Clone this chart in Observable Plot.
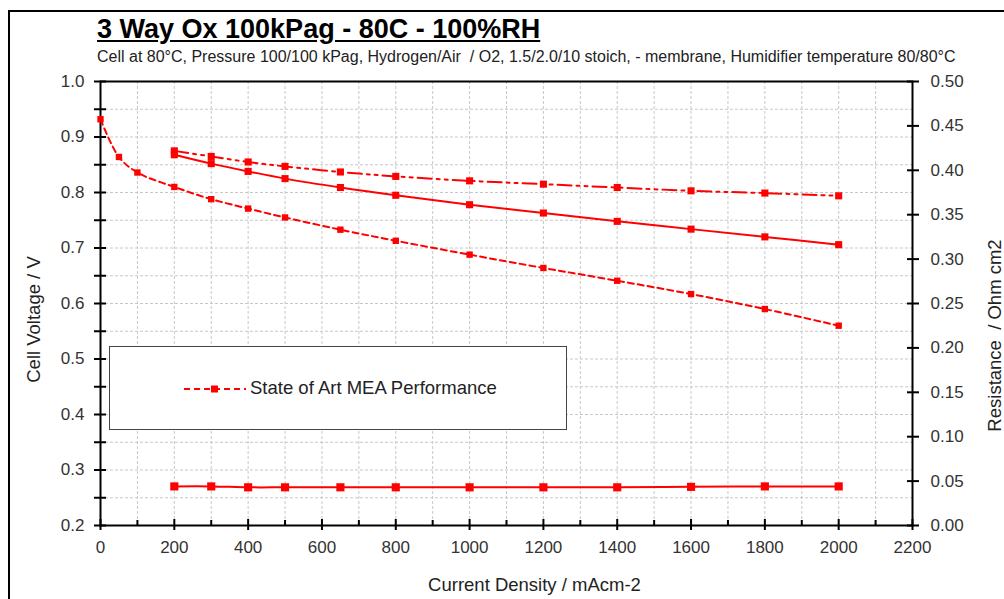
<!DOCTYPE html>
<html><head><meta charset="utf-8">
<script src="https://cdn.jsdelivr.net/npm/d3@7"></script>
<script src="https://cdn.jsdelivr.net/npm/@observablehq/plot@0.6"></script>
<style>
body{margin:0;background:#fff;font-family:"Liberation Sans",Arial,sans-serif;}
#wrap{position:relative;width:1004px;height:599px;overflow:hidden;background:#fff;}
#border{position:absolute;left:8px;top:10px;width:1100px;height:700px;border:2px solid #000;box-sizing:border-box;}
#title{position:absolute;left:97px;top:14px;font-size:27px;font-weight:bold;text-decoration:underline;color:#000;white-space:nowrap;}
#sub{position:absolute;left:97px;top:48px;font-size:16px;color:#222;white-space:nowrap;}
#chart{position:absolute;left:0;top:62px;}
#legend{position:absolute;left:109px;top:346px;width:458px;height:84px;border:1.5px solid #444;background:#fff;box-sizing:border-box;}
#legend svg{position:absolute;left:72px;top:35px;}
#legend span{position:absolute;left:140px;top:30px;font-size:18.5px;color:#222;white-space:nowrap;}
</style></head>
<body>
<div id="wrap">
  <div id="border"></div>
  <div id="title">3 Way Ox 100kPag - 80C - 100%RH</div>
  <div id="sub">Cell at 80°C, Pressure 100/100 kPag, Hydrogen/Air&nbsp; / O2, 1.5/2.0/10 stoich, - membrane, Humidifier temperature 80/80°C</div>
  <div id="chart"></div>
  <div id="legend"><svg width="66" height="14"><line x1="2" y1="7" x2="64" y2="7" stroke="#ff0000" stroke-width="2" stroke-dasharray="6,4"/><rect x="29" y="3.5" width="7" height="7" fill="#ff0000"/></svg><span>State of Art MEA Performance</span></div>
</div>
<script>
// Data
const soaCurrent = [0, 50, 100, 200, 300, 400, 500, 650, 800, 1000, 1200, 1400, 1600, 1800, 2000];
const soaVoltage = [0.932, 0.864, 0.836, 0.810, 0.788, 0.771, 0.755, 0.733, 0.713, 0.688, 0.664, 0.641, 0.617, 0.590, 0.560];
const testCurrent = [200, 300, 400, 500, 650, 800, 1000, 1200, 1400, 1600, 1800, 2000];
const solidVoltage = [0.868, 0.852, 0.838, 0.825, 0.809, 0.795, 0.778, 0.763, 0.748, 0.734, 0.720, 0.706];
const dashDotVoltage = [0.875, 0.865, 0.855, 0.847, 0.837, 0.829, 0.821, 0.815, 0.809, 0.803, 0.799, 0.794];
const resistance = [0.044, 0.044, 0.043, 0.043, 0.043, 0.043, 0.043, 0.043, 0.043, 0.0435, 0.044, 0.044];
const xTickLabels = [0, 200, 400, 600, 800, 1000, 1200, 1400, 1600, 1800, 2000, 2200];
const xMinorTicks = [100, 300, 500, 700, 900, 1100, 1300, 1500, 1700, 1900, 2100];
const yTickLabels = [0.2, 0.3, 0.4, 0.5, 0.6, 0.7, 0.8, 0.9, 1.0];
const yTicks = [0.2, 0.25, 0.3, 0.35, 0.4, 0.45, 0.5, 0.55, 0.6, 0.65, 0.7, 0.75, 0.8, 0.85, 0.9, 0.95, 1.0];
const rTicks = [0, 0.05, 0.1, 0.15, 0.2, 0.25, 0.3, 0.35, 0.4, 0.45, 0.5];
const xGrid = [100, 200, 300, 400, 500, 600, 700, 800, 900, 1000, 1100, 1200, 1300, 1400, 1500, 1600, 1700, 1800, 1900, 2000, 2100];

// right axis (resistance) mapped onto left voltage scale
const rToV = d3.scaleLinear().domain([0, 0.5]).range([0.2, 1.0]);

const soa = soaCurrent.map((x, i) => ({x, y: soaVoltage[i]}));
const solid = testCurrent.map((x, i) => ({x, y: solidVoltage[i]}));
const dd = testCurrent.map((x, i) => ({x, y: dashDotVoltage[i]}));
const res = testCurrent.map((x, i) => ({x, y: rToV(resistance[i])}));

const red = "#ff0000";
const font = "Liberation Sans, Arial, sans-serif";

const chart = Plot.plot({
  width: 1004,
  height: 537,
  marginTop: 19,
  marginBottom: 74,
  marginLeft: 100,
  marginRight: 92,
  style: {fontFamily: font, fontSize: "17px", color: "#333", background: "transparent"},
  x: {domain: [0, 2200], axis: null},
  y: {domain: [0.2, 1.0], axis: null},
  marks: [
    Plot.gridX(xGrid, {stroke: "#c8c8c8", strokeOpacity: 1, strokeDasharray: "3,2"}),
    Plot.gridY(yTicks, {stroke: "#c8c8c8", strokeOpacity: 1, strokeDasharray: "3,2"}),
    Plot.frame({stroke: "#000", strokeWidth: 2}),
    // left axis
    Plot.axisY(yTicks, {anchor: "left", tickSize: 12, dx: 6, tickFormat: () => "", label: null, stroke: "#000", strokeWidth: 2}),
    Plot.axisY(yTickLabels, {anchor: "left", tickSize: 0, tickPadding: 16, tickFormat: d3.format(".1f"), label: null, fill: "#333", fontSize: 17}),
    // right axis
    Plot.axisY(rTicks.map(rToV), {anchor: "right", tickSize: 12, dx: -6, tickPadding: 12, tickFormat: v => d3.format(".2f")(rToV.invert(v)), label: null, stroke: "#000", strokeWidth: 2, fill: "#333", fontSize: 17}),
    // x axis
    Plot.axisX(xTickLabels, {anchor: "bottom", tickSize: 11, dy: -6, tickFormat: () => "", label: null, stroke: "#000", strokeWidth: 2}),
    Plot.axisX(xMinorTicks, {anchor: "bottom", tickSize: 5, dy: -5, tickFormat: () => "", label: null, stroke: "#000", strokeWidth: 2}),
    Plot.axisX(xTickLabels, {anchor: "bottom", tickSize: 0, tickPadding: 15, tickFormat: d3.format("d"), label: null, fill: "#333", fontSize: 17}),
    // axis titles
    Plot.text(["Cell Voltage / V"], {frameAnchor: "left", textAnchor: "middle", rotate: -90, dx: -66, dy: 16, fontSize: 18.5, fill: "#222"}),
    Plot.text(["Resistance  / Ohm cm2"], {frameAnchor: "right", textAnchor: "middle", rotate: -90, dx: 83, dy: 32, fontSize: 18.5, fill: "#222"}),
    Plot.text(["Current Density / mAcm-2"], {frameAnchor: "bottom", textAnchor: "middle", dx: 28, dy: 65, fontSize: 18.5, fill: "#222"}),
    // series
    Plot.line(soa, {x: "x", y: "y", stroke: red, strokeWidth: 2, strokeDasharray: "6,4", curve: "catmull-rom"}),
    Plot.dot(soa, {x: "x", y: "y", symbol: "square", r: 3.6, fill: red}),
    Plot.line(solid, {x: "x", y: "y", stroke: red, strokeWidth: 2, curve: "catmull-rom"}),
    Plot.dot(solid, {x: "x", y: "y", symbol: "square", r: 4, fill: red}),
    Plot.line(dd, {x: "x", y: "y", stroke: red, strokeWidth: 2, strokeDasharray: "14,5,3,5,3,5", curve: "catmull-rom"}),
    Plot.dot(dd, {x: "x", y: "y", symbol: "square", r: 4, fill: red}),
    Plot.line(res, {x: "x", y: "y", stroke: red, strokeWidth: 2, curve: "catmull-rom"}),
    Plot.dot(res, {x: "x", y: "y", symbol: "square", r: 4.6, fill: red})
  ]
});
document.getElementById("chart").appendChild(chart);
</script>
</body></html>
